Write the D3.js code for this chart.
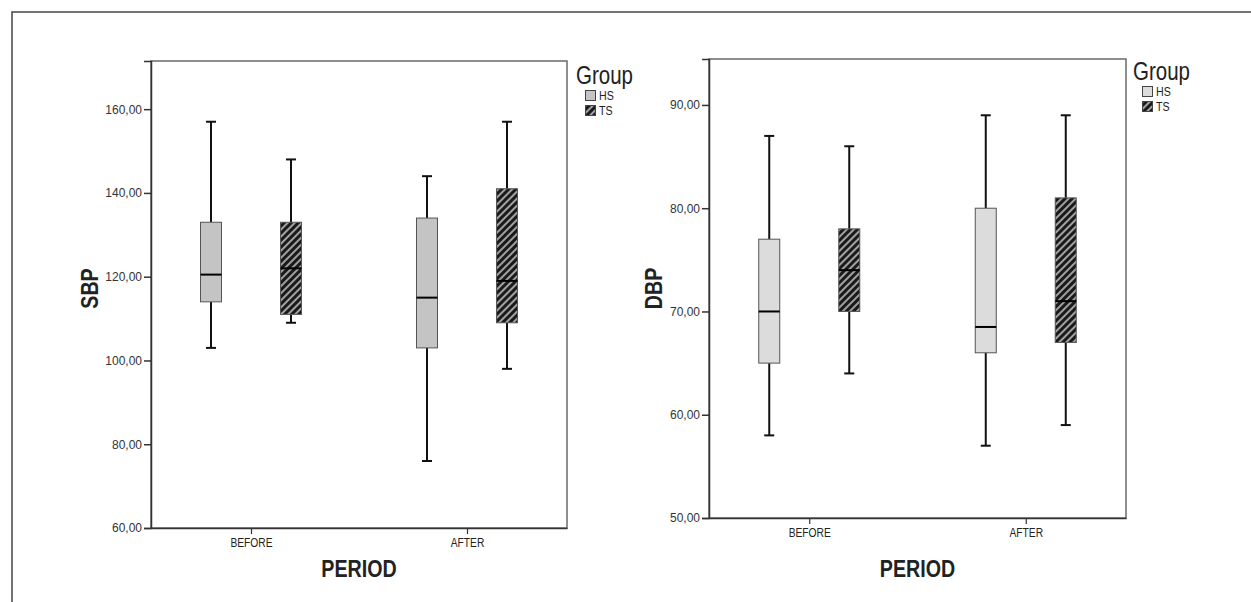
<!DOCTYPE html>
<html>
<head>
<meta charset="utf-8">
<script src="https://cdn.jsdelivr.net/npm/d3@7"></script>
<style>
  body { margin: 0; background: #fff; }
  svg { display: block; }
  .tick-lbl { font-family: "Liberation Sans", Arial, sans-serif; font-size: 12px; fill: #333; }
  .narrow { font-family: "Liberation Sans", Arial, sans-serif; fill: #222; }
</style>
</head>
<body>
<div id="chart"></div>
<script>
// data: [min, q1, median, q3, max] for BEFORE and AFTER
const periods = ["BEFORE", "AFTER"];
const groups = ["HS", "TS"];

const sbpHS = [[103, 114, 120.5, 133, 157], [76, 103, 115, 134, 144]];
const sbpTS = [[109, 111, 122, 133, 148], [98, 109, 119, 141, 157]];
const sbpTicks = [60, 80, 100, 120, 140, 160];

const dbpHS = [[58, 65, 70, 77, 87], [57, 66, 68.5, 80, 89]];
const dbpTS = [[64, 70, 74, 78, 86], [59, 67, 71, 81, 89]];
const dbpTicks = [50, 60, 70, 80, 90];

const w = 1251, h = 602;
const squeeze = 0.82; // fake a narrow face
const svg = d3.select("#chart").append("svg").attr("width", w).attr("height", h);

const defs = svg.append("defs");
const pat = defs.append("pattern")
  .attr("id", "hatch")
  .attr("patternUnits", "userSpaceOnUse")
  .attr("width", 5).attr("height", 5)
  .attr("patternTransform", "rotate(45)");
pat.append("rect").attr("width", 5).attr("height", 5).attr("fill", "#1a1a1a");
pat.append("line").attr("x1", 1).attr("y1", 0).attr("x2", 1).attr("y2", 5)
  .attr("stroke", "#b0b0b0").attr("stroke-width", 1.8);

// outer frame (top + left only visible)
svg.append("path")
  .attr("d", "M12,602 L12,12 L1251,12")
  .attr("fill", "none").attr("stroke", "#444").attr("stroke-width", 1.5);

const fmt = (d) => d3.format(".2f")(d).replace(".", ",");

function narrowText(parent, x, y, txt, size, weight, anchor, rot) {
  return parent.append("text")
    .attr("class", "narrow")
    .attr("transform", "translate(" + x + "," + y + ")" + (rot ? " rotate(" + rot + ")" : "") + " scale(" + squeeze + ",1)")
    .attr("text-anchor", anchor || "start")
    .attr("font-size", size)
    .attr("font-weight", weight || "normal")
    .text(txt);
}

function panel(o) {
  const g = svg.append("g");
  const y = d3.scaleLinear().domain(o.domain).range([o.bottom, o.top]);
  const x = d3.scalePoint().domain(periods).range([o.left, o.right]).padding(0.463);

  // frame
  g.append("rect")
    .attr("x", o.left).attr("y", o.top)
    .attr("width", o.right - o.left).attr("height", o.bottom - o.top)
    .attr("fill", "none").attr("stroke", "#6a6a6a").attr("stroke-width", 1.5);

  // y axis
  const yAxis = g.append("g")
    .attr("transform", "translate(" + o.left + ",0)")
    .call(d3.axisLeft(y).tickValues(o.ticks).tickFormat(fmt).tickSize(7).tickPadding(2));
  yAxis.select(".domain").attr("stroke", "#333").attr("stroke-width", 1.5);
  yAxis.selectAll(".tick line").attr("stroke", "#333").attr("stroke-width", 1.5);
  yAxis.selectAll(".tick text").attr("class", "tick-lbl").attr("fill", null).attr("font-size", null).attr("font-family", null);

  // x axis
  const xAxis = g.append("g")
    .attr("transform", "translate(0," + o.bottom + ")")
    .call(d3.axisBottom(x).tickSize(6).tickPadding(4).tickSizeOuter(0));
  xAxis.select(".domain").attr("stroke", "#333").attr("stroke-width", 1.5);
  xAxis.selectAll(".tick line").attr("stroke", "#333").attr("stroke-width", 1.2);
  xAxis.selectAll(".tick text")
    .attr("fill", "#222").attr("font-size", 12.5)
    .attr("font-family", "'Liberation Sans', Arial, sans-serif")
    .attr("transform", "scale(" + squeeze + ",1)");

  // boxes
  const series = [
    { name: "HS", vals: o.hs, fill: o.hsFill, dx: -40 },
    { name: "TS", vals: o.ts, fill: "url(#hatch)", dx: 40 }
  ];
  const bw = 21, cap = 10;
  series.forEach((s) => {
    s.vals.forEach((v, i) => {
      const cx = x(periods[i]) + s.dx;
      const bg = g.append("g");
      bg.append("line").attr("x1", cx).attr("x2", cx).attr("y1", y(v[4])).attr("y2", y(v[3]))
        .attr("stroke", "#111").attr("stroke-width", 2);
      bg.append("line").attr("x1", cx).attr("x2", cx).attr("y1", y(v[1])).attr("y2", y(v[0]))
        .attr("stroke", "#111").attr("stroke-width", 2);
      bg.append("line").attr("x1", cx - cap / 2).attr("x2", cx + cap / 2).attr("y1", y(v[4])).attr("y2", y(v[4]))
        .attr("stroke", "#111").attr("stroke-width", 2);
      bg.append("line").attr("x1", cx - cap / 2).attr("x2", cx + cap / 2).attr("y1", y(v[0])).attr("y2", y(v[0]))
        .attr("stroke", "#111").attr("stroke-width", 2);
      bg.append("rect").attr("x", cx - bw / 2).attr("y", y(v[3]))
        .attr("width", bw).attr("height", y(v[1]) - y(v[3]))
        .attr("fill", s.fill).attr("stroke", "#555").attr("stroke-width", 1);
      bg.append("line").attr("x1", cx - bw / 2).attr("x2", cx + bw / 2).attr("y1", y(v[2])).attr("y2", y(v[2]))
        .attr("stroke", "#000").attr("stroke-width", 2);
    });
  });

  // axis titles
  narrowText(g, (o.left + o.right) / 2, 577, "PERIOD", 24, "bold", "middle").attr("fill", "#1a1a1a");
  narrowText(g, o.ytx, (o.top + o.bottom) / 2 + o.yty, o.ytitle, 24, "bold", "middle", -90).attr("fill", "#1a1a1a");

  // legend
  const lg = g.append("g").attr("transform", "translate(" + o.legX + "," + o.legY + ")");
  narrowText(lg, 0, 0, "Group", 25);
  groups.forEach((name, i) => {
    const row = lg.append("g").attr("transform", "translate(9," + (6 + i * 15) + ")");
    row.append("rect").attr("x", 0.5).attr("y", 0.5).attr("width", 10).attr("height", 10)
      .attr("fill", i === 0 ? o.hsFill : "url(#hatch)").attr("stroke", "#444").attr("stroke-width", 1);
    narrowText(row, 14, 10, name, 13);
  });
}

panel({
  left: 151, right: 567, top: 61, bottom: 528,
  domain: [60, 171.5], ticks: sbpTicks,
  hs: sbpHS, ts: sbpTS, hsFill: "#c4c4c4",
  ytitle: "SBP", ytx: 98, yty: -6,
  legX: 576, legY: 84
});

panel({
  left: 709, right: 1126, top: 59, bottom: 518,
  domain: [50, 94.45], ticks: dbpTicks,
  hs: dbpHS, ts: dbpTS, hsFill: "#dcdcdc",
  ytitle: "DBP", ytx: 662, yty: 0,
  legX: 1133, legY: 80
});
</script>
</body>
</html>
